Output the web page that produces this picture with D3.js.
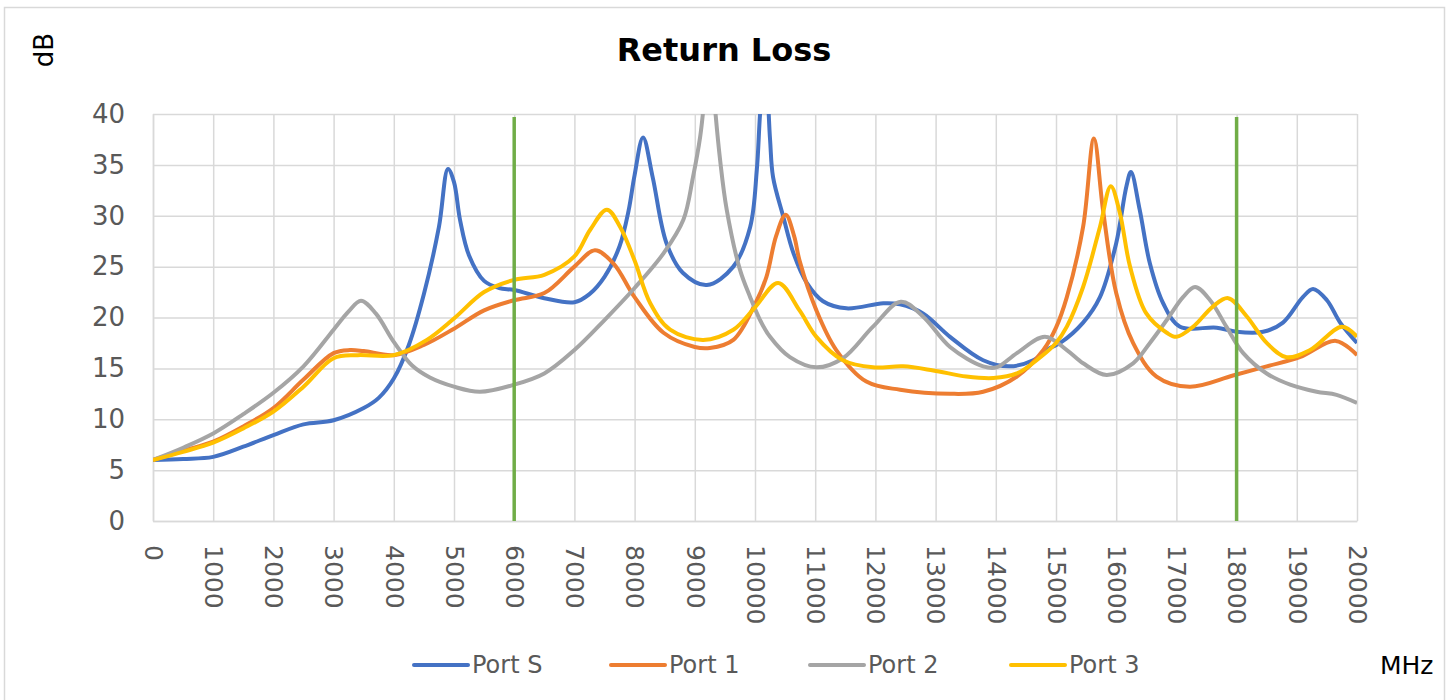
<!DOCTYPE html>
<html>
<head>
<meta charset="utf-8">
<script src="https://cdn.jsdelivr.net/npm/d3@7"></script>
<style>
  body { margin: 0; background: #fff; }
  svg { display: block; font-family: "DejaVu Sans", sans-serif; }
</style>
</head>
<body>
<div id="chart"></div>
<script>
// frequency (MHz), return loss (dB)
const portS = [
  [0, 6.0], [500, 6.1], [1000, 6.3], [1500, 7.3], [2000, 8.45], [2500, 9.5], [3000, 9.9],
  [3500, 11.1], [3750, 12.1], [4000, 14.0], [4250, 17.3], [4500, 22.3], [4750, 28.9],
  [4900, 34.6], [5000, 33.3], [5100, 29.6], [5250, 26.1], [5500, 23.6], [5750, 22.9],
  [6000, 22.7], [6500, 21.9], [7000, 21.5], [7250, 22.3], [7500, 24.0], [7750, 27.0],
  [7900, 30.5], [8000, 34.0], [8140, 37.7], [8300, 33.8], [8530, 27.3], [8800, 24.4], [9200, 23.2],
  [9640, 25.0], [9920, 28.9], [10030, 34.5], [10090, 40.5], [10170, 45], [10250, 37.5],
  [10300, 33.8], [10470, 29.9], [10640, 26.3], [10860, 23.4], [11130, 21.6], [11520, 20.9],
  [12130, 21.4], [12410, 21.3], [12790, 20.4], [13240, 18.1], [13790, 15.8], [14230, 15.2],
  [14620, 15.8], [14900, 17.0], [15070, 17.5], [15450, 19.5], [15730, 22.0], [16000, 27.3],
  [16170, 32.9], [16245, 34.3], [16390, 30.6], [16560, 25.3], [16780, 21.4], [17060, 19.1],
  [17670, 19.0], [18000, 18.6], [18440, 18.6], [18770, 19.5], [19100, 22.0], [19270, 22.8],
  [19500, 21.7], [19720, 19.5], [20000, 17.5]
];
const port1 = [
  [0, 6.0], [500, 6.9], [1000, 7.8], [1500, 9.3], [2000, 11.1], [2500, 13.9], [3000, 16.5],
  [3270, 16.8], [3500, 16.7], [4000, 16.3], [4500, 17.3], [5000, 18.9], [5500, 20.7],
  [6000, 21.7], [6500, 22.4], [7000, 25.0], [7340, 26.6], [7650, 25.3], [8000, 22.0],
  [8480, 18.5], [9000, 17.1], [9250, 17.0], [9640, 17.8], [10000, 21.3], [10190, 24.0],
  [10350, 28.0], [10510, 30.1], [10650, 28.0], [10740, 25.6], [11020, 20.7], [11350, 16.8],
  [11850, 13.7], [12410, 12.9], [13240, 12.5], [13790, 12.7], [14350, 14.2], [14790, 16.8],
  [15000, 19.0], [15180, 22.0], [15450, 28.9], [15630, 37.6], [15780, 30.6], [16000, 22.4],
  [16280, 17.5], [16670, 14.2], [17220, 13.2], [17940, 14.3], [18500, 15.2], [19050, 16.1],
  [19650, 17.7], [20000, 16.3]
];
const port2 = [
  [0, 6.0], [500, 7.2], [1000, 8.6], [1500, 10.5], [2000, 12.6], [2500, 15.2], [3000, 18.8],
  [3250, 20.6], [3455, 21.65], [3700, 20.4], [4000, 17.6], [4300, 15.3], [4600, 14.1],
  [5000, 13.2], [5430, 12.7], [6000, 13.4], [6500, 14.5], [7000, 16.8],
  [7500, 19.75], [8000, 22.9], [8480, 26.3], [8810, 29.6], [8970, 33.8], [9090, 37.8],
  [9150, 41], [9240, 48], [9330, 41], [9420, 35.5], [9530, 30.6], [9750, 24.7], [9920, 22.0],
  [10080, 19.8], [10250, 18.1], [10580, 16.1], [11020, 15.1], [11460, 16.0], [11960, 19.1],
  [12424, 21.55], [12790, 20.1], [13240, 17.1], [13790, 15.2], [14010, 15.1], [14350, 16.5],
  [14816, 18.1], [15180, 16.8], [15450, 15.5], [15840, 14.35], [16280, 15.5], [16560, 17.5],
  [16840, 19.75], [17110, 22.0], [17310, 23.0], [17560, 21.7], [17830, 19.1], [18110, 16.5],
  [18500, 14.5], [18890, 13.4], [19330, 12.7], [19660, 12.4], [20000, 11.6]
];
const port3 = [
  [0, 6.0], [500, 6.8], [1000, 7.7], [1500, 9.1], [2000, 10.75], [2500, 13.2], [3000, 16.0],
  [3400, 16.3], [4000, 16.3], [4550, 17.8], [5000, 19.9], [5500, 22.5], [6000, 23.7],
  [6500, 24.2], [7000, 26.0], [7260, 28.6], [7540, 30.6], [7760, 28.9], [8000, 25.6],
  [8260, 21.4], [8590, 18.8], [9140, 17.8], [9640, 18.8], [10000, 21.0], [10385, 23.4],
  [10740, 20.7], [11020, 18.1], [11460, 15.8], [11960, 15.1], [12460, 15.2], [12960, 14.8],
  [13510, 14.2], [13960, 14.05], [14350, 14.5], [14740, 16.1], [15000, 17.5], [15180, 19.1],
  [15450, 23.0], [15730, 28.9], [15910, 32.9], [16060, 30.3], [16230, 25.0], [16500, 20.4],
  [16840, 18.5], [17000, 18.1], [17280, 19.1], [17610, 21.1], [17860, 21.9], [18170, 20.1],
  [18500, 17.5], [18830, 16.1], [19220, 16.8], [19750, 19.1], [20000, 18.1]
];
const seriesNames = ["Port S", "Port 1", "Port 2", "Port 3"];
const seriesColors = ["#4472C4", "#ED7D31", "#A5A5A5", "#FFC000"];
const bandEdges = [6000, 18000];
const yTicks = [0, 5, 10, 15, 20, 25, 30, 35, 40];
const xTicks = d3.range(0, 20001, 1000);

const W = 1449, H = 700;
const M = { left: 153, right: 1357, top: 114, bottom: 521 };

const svg = d3.select("#chart").append("svg")
  .attr("width", W).attr("height", H);

// chart border
svg.append("rect")
  .attr("x", 4.5).attr("y", 7.5)
  .attr("width", 1440).attr("height", 700)
  .attr("fill", "#fff").attr("stroke", "#d9d9d9").attr("stroke-width", 1.5);

const x = d3.scaleLinear().domain([0, 20000]).range([M.left, M.right]);
const y = d3.scaleLinear().domain([0, 40]).range([M.bottom, M.top]);

// y axis + horizontal grid
const yAxis = svg.append("g")
  .attr("transform", `translate(${M.left},0)`)
  .call(d3.axisLeft(y).tickValues(yTicks)
    .tickSizeInner(-(M.right - M.left)).tickSizeOuter(0).tickPadding(28));
yAxis.select(".domain").attr("stroke", "#d9d9d9").attr("stroke-width", 1.5);
yAxis.selectAll(".tick line").attr("stroke", "#d9d9d9").attr("stroke-width", 1.5);
yAxis.selectAll(".tick text")
  .attr("fill", "#595959").attr("font-size", 26)
  .attr("font-family", "DejaVu Sans, sans-serif");

// x axis + vertical grid
const xAxis = svg.append("g")
  .attr("transform", `translate(0,${M.bottom})`)
  .call(d3.axisBottom(x).tickValues(xTicks).tickFormat(d3.format("d"))
    .tickSizeInner(-(M.bottom - M.top)).tickSizeOuter(0));
xAxis.select(".domain").attr("stroke", "#d9d9d9").attr("stroke-width", 1.5);
xAxis.selectAll(".tick line").attr("stroke", "#d9d9d9").attr("stroke-width", 1.5);
xAxis.selectAll(".tick text")
  .attr("fill", "#595959").attr("font-size", 25)
  .attr("font-family", "DejaVu Sans, sans-serif")
  .attr("text-anchor", "start")
  .attr("transform", "rotate(90)")
  .attr("x", 24).attr("y", 0).attr("dy", "0.35em");

// clip lines to the plot area
svg.append("clipPath").attr("id", "plot-clip")
  .append("rect")
  .attr("x", M.left).attr("y", M.top)
  .attr("width", M.right - M.left).attr("height", M.bottom - M.top);

const line = d3.line()
  .x(d => x(d[0]))
  .y(d => y(d[1]))
  .curve(d3.curveCatmullRom.alpha(0.5));

const plot = svg.append("g").attr("clip-path", "url(#plot-clip)");
[portS, port1, port2, port3].forEach((data, i) => {
  plot.append("path")
    .datum(data)
    .attr("d", line)
    .attr("fill", "none")
    .attr("stroke", seriesColors[i])
    .attr("stroke-width", 4)
    .attr("stroke-linejoin", "round");
});

// band edge markers
svg.selectAll(".band")
  .data(bandEdges)
  .enter().append("line")
  .attr("x1", d => x(d)).attr("x2", d => x(d))
  .attr("y1", y(39.7)).attr("y2", y(0))
  .attr("stroke", "#70AD47").attr("stroke-width", 3.5);

// title and axis labels
svg.append("text")
  .attr("x", 724).attr("y", 61)
  .attr("text-anchor", "middle")
  .attr("font-size", 32).attr("font-weight", "bold")
  .attr("fill", "#000")
  .text("Return Loss");

svg.append("text")
  .attr("transform", "translate(53,50) rotate(-90)")
  .attr("text-anchor", "middle")
  .attr("font-size", 26).attr("fill", "#000")
  .text("dB");

svg.append("text")
  .attr("x", 1380).attr("y", 674)
  .attr("font-size", 25).attr("fill", "#000")
  .text("MHz");

// legend
const legendX = [414, 611, 810, 1011];
const legend = svg.selectAll(".legend")
  .data(seriesNames)
  .enter().append("g")
  .attr("class", "legend")
  .attr("transform", (d, i) => `translate(${legendX[i]},665)`);
legend.append("line")
  .attr("x1", 0).attr("x2", 54)
  .attr("stroke", (d, i) => seriesColors[i])
  .attr("stroke-width", 4).attr("stroke-linecap", "round");
legend.append("text")
  .attr("x", 58).attr("dy", "0.35em")
  .attr("font-size", 24).attr("fill", "#595959")
  .text(d => d);
</script>
</body>
</html>
